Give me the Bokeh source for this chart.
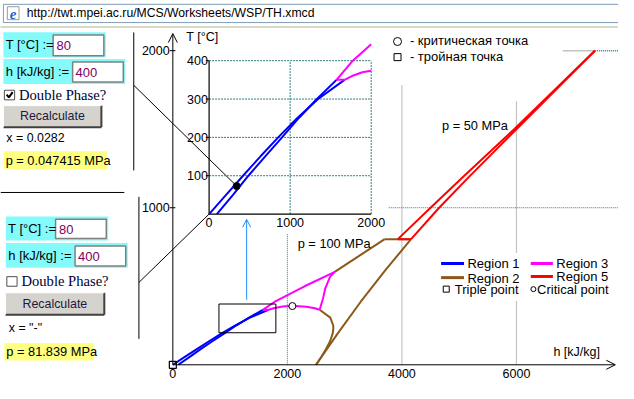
import numpy as np
from bokeh.plotting import figure
from bokeh.models import Range1d, Arrow, OpenHead
from bokeh.core.properties import value
from bokeh.embed import file_html
from bokeh.resources import INLINE

# ---------------- chart data: specific enthalpy h [kJ/kg], temperature T [°C] ----------------
sat_liq_T = [0, 50, 100, 150, 200, 250, 300, 350]
sat_liq_h = [0.0, 209.3, 419.1, 632.2, 852.3, 1085.8, 1344.8, 1670.9]
r1_p100_T = [0, 50, 100, 150, 200, 250, 300, 350]
r1_p100_h = [95.4, 295.0, 485.0, 690.0, 900.0, 1105.0, 1330.0, 1572.0]

r3_T350_T = [350, 350]
r3_T350_h = [1572.0, 1670.9]
r3_p100_T = [350, 400, 500, 590]
r3_p100_h = [1572.0, 1773.0, 2300.0, 2820.0]
sat_dome_T = [350, 360, 370, 372.5, 373.95, 372.8, 370, 360, 350]
sat_dome_h = [1670.9, 1761.7, 1890.7, 1960.0, 2087.5, 2200.0, 2332.7, 2481.5, 2563.6]
b23_T = [350, 425, 485, 560, 590]
b23_h = [2563.6, 2625.0, 2660.0, 2745.0, 2820.0]

sat_vap_T = [0, 50, 100, 150, 200, 234, 250, 300, 350]
sat_vap_h = [2500.9, 2591.3, 2675.6, 2745.9, 2792.0, 2803.0, 2800.9, 2749.6, 2563.6]
r2_p0_T = [0, 200, 400, 600, 800]
r2_p0_h = [2500.9, 2880.0, 3278.0, 3705.0, 4160.0]
r2_p100_T = [590, 700, 800]
r2_p100_h = [2820.0, 3280.0, 3700.0]
r2_T800_T = [800, 800]
r2_T800_h = [3700.0, 4160.0]

r5_p50_T = [800, 1000, 1200, 1500, 2000]
r5_p50_h = [3930.0, 4500.0, 5080.0, 5960.0, 7370.0]
r5_p0_T = [800, 1000, 1200, 1500, 2000]
r5_p0_h = [4160.0, 4650.0, 5180.0, 6000.0, 7370.0]
r5_T800_T = [800, 800]
r5_T800_h = [3930.0, 4160.0]

critical_h, critical_T = [2087.5], [373.95]
triple_h, triple_T = [0.0], [0.01]
state_h, state_T = [340.0], [73.0]

main_h_ticks = [0, 2000, 4000, 6000]
main_T_ticks = [1000, 2000]
inset_h_ticks = [0, 1000, 2000]
inset_T_ticks = [100, 200, 300, 400]
inset_h_max, inset_T_max = 2000, 400

zoom_box_h = [805, 1799]
zoom_box_T = [204, 387]
arrow_h, arrow_T = 1289, [414, 926]

legend_items = ["Region 1", "Region 2", "Region 3", "Region 5"]

BLUE, BROWN, MAG, RED = "#0000ff", "#8b5a1a", "#ff00ff", "#ff0000"
TEAL, GRAY = "#2f7f7f", "#c4c4c4"
SANS, SERIF = "Liberation Sans", "Liberation Serif"

# ---------------- figure: the frame covers the whole page ----------------
W, H = 634, 399   # reference layout in px
p = figure(width=618, height=383, x_range=Range1d(0, W), y_range=Range1d(H, 0),
           output_backend="svg", toolbar_location=None, min_border=0,
           x_axis_type=None, y_axis_type=None)
p.outline_line_color = None
p.background_fill_color = "white"
p.border_fill_color = "white"


def lin_range(v0, px0, v1, px1, lo_px, hi_px):
    k = (v1 - v0) / (px1 - px0)
    return Range1d(v0 + (lo_px - px0) * k, v0 + (hi_px - px0) * k)


p.extra_x_ranges = {"mh": lin_range(0, 176.8, 6000, 529.3, 0, W),
                    "ih": lin_range(0, 214.0, 2000, 380.3, 0, W)}
p.extra_y_ranges = {"mT": lin_range(0, 379.5, 2000, 52.3, H, 0),
                    "iT": lin_range(0, 222.5, 400, 62.7, H, 0)}
M = dict(x_range_name="mh", y_range_name="mT")
I = dict(x_range_name="ih", y_range_name="iT")


def label(x, y, s, size, color="black", align="left", font=SANS, rng=None, style="normal"):
    kw = rng if rng else {}
    p.text(x=[x], y=[y], text=[s], text_font=value(font), text_font_size=f"{size}px",
           text_color=color, text_align=align, text_baseline="middle",
           text_font_style=style, **kw)


def box(l, r, t, b, fill, line=None, lw=1):
    p.quad(left=[l], right=[r], top=[t], bottom=[b], fill_color=fill,
           line_color=line, line_width=lw)


def seg(x0, y0, x1, y1, color="black", lw=1, dash="solid", rng=None):
    kw = rng if rng else {}
    p.segment(x0=[x0], y0=[y0], x1=[x1], y1=[y1], line_color=color, line_width=lw,
              line_dash=dash, **kw)


def clip(hs, Ts, hmax, Tmax):
    oh, oT = [], []
    ins = lambda h, T: h <= hmax + 1e-9 and T <= Tmax + 1e-9
    for i, (h, T) in enumerate(zip(hs, Ts)):
        if i > 0:
            h0, T0 = hs[i - 1], Ts[i - 1]
            a, b = ins(h0, T0), ins(h, T)
            if a != b:
                ts = []
                if (h0 - hmax) * (h - hmax) < 0:
                    ts.append((hmax - h0) / (h - h0))
                if (T0 - Tmax) * (T - Tmax) < 0:
                    ts.append((Tmax - T0) / (T - T0))
                t = min(ts) if a else max(ts)
                oh.append(h0 + t * (h - h0)); oT.append(T0 + t * (T - T0))
                if a:
                    oh.append(np.nan); oT.append(np.nan)
        if ins(h, T):
            oh.append(h); oT.append(T)
    return oh, oT


# ---------------- browser address bar ----------------
box(3, 640, 4, 23, "white", "#7f9db9")
box(7, 19, 6.5, 20, "white", "#9a9a9a")
label(13, 14, "e", 15, color="#1c5fd0", align="center", font=SERIF, style="bold italic")
label(27, 13.5, "http://twt.mpei.ac.ru/MCS/Worksheets/WSP/TH.xmcd", 12.2)
seg(0, 27.5, 640, 27.5, color="#b0b088", lw=2, dash="1 1")

# ---------------- left panels (worksheet controls) ----------------
CYAN, YEL, BTN = "#84fbfb", "#ffff80", "#d6d3ce"


def panel(top_T, top_h, chk_y, btn, x_y, dx, checked, xtxt, ptxt, pbox):
    # T input
    box(dx, dx + 105, top_T[0], top_T[1], CYAN)
    box(dx + 51, dx + 103, top_T[0] + 3, top_T[1] - 2, "white", "#808080", 1.5)
    label(dx + 2.3, (top_T[0] + top_T[1]) / 2, "T [°C] :=", 13)
    label(dx + 54.5, (top_T[0] + top_T[1]) / 2 + 1, "80", 13, color="#800060")
    # h input
    box(dx, dx + 125, top_h[0], top_h[1], CYAN)
    box(dx + 71, dx + 123, top_h[0] + 3, top_h[1] - 2, "white", "#808080", 1.5)
    label(dx + 2.5, (top_h[0] + top_h[1]) / 2, "h [kJ/kg] :=", 13)
    label(dx + 74, (top_h[0] + top_h[1]) / 2 + 1, "400", 13, color="#800060")
    # checkbox
    box(dx + 1, dx + 11.5, chk_y - 5, chk_y + 5, "white", "#505050", 1)
    if checked:
        p.line([dx + 3.3, dx + 5.6, dx + 9.5], [chk_y - 0.5, chk_y + 2.5, chk_y - 3],
               line_color="black", line_width=2)
    label(dx + 16, chk_y, "Double Phase?", 14.6, color="#000033", font=SERIF)
    # button
    box(btn[0], btn[1], btn[2], btn[3], BTN, None)
    seg(btn[0], btn[3], btn[1], btn[3], "#404040", 2)
    seg(btn[1], btn[2], btn[1], btn[3], "#404040", 2)
    seg(btn[0], btn[2], btn[1], btn[2], "white", 1)
    seg(btn[0], btn[2], btn[0], btn[3], "white", 1)
    label((btn[0] + btn[1]) / 2, (btn[2] + btn[3]) / 2, "Recalculate", 12.4,
          color="#1a1a40", align="center")
    # results
    label(dx + 3, x_y, xtxt, 12.4)
    box(pbox[0], pbox[1], pbox[2], pbox[3], YEL)
    label(pbox[0] + 2, (pbox[2] + pbox[3]) / 2, ptxt, 12.8)


panel((33, 59.5), (61, 87), 98.5, (3, 103.5, 109.5, 132), 143.5, 3, True,
      "x = 0.0282", "p = 0.047415 MPa", (3.3, 109.3, 157, 176))
panel((225, 250), (252.7, 278.5), 292.7, (5, 106.5, 304.5, 327.5), 341.7, 5.5, False,
      'x = "-"', "p = 81.839 MPa", (4, 96, 356.7, 375))

seg(136.7, 33.3, 136.7, 177)
seg(0, 200, 127, 200)
seg(142, 204.5, 142, 352.5)
seg(136.7, 88.3, 242.3, 193.3)
seg(142, 293.7, 214, 222.5)

# ---------------- main chart: grid fragments ----------------
seg(2000, 0, 2000, 833, TEAL, 1, "1 1", M)
seg(4000, 0, 4000, 1782, GRAY, 1.2, "solid", M)
seg(6000, 0, 6000, 1678, GRAY, 1.2, "solid", M)
seg(3771, 1000, 7800, 1000, TEAL, 1, "1 1", M)
seg(6808, 2000, 7375, 2000, GRAY, 1.5, "solid", M)
seg(7375, 2000, 7800, 2000, TEAL, 1.5, "1 1", M)

# legend background (interrupts the grid line)
box(447, 634, 263, 313, "white", None)

# ---------------- main chart: region boundaries ----------------
def curve(h, T, color, rng, lw=2):
    p.line(h, T, line_color=color, line_width=lw, **rng)


for hs, Ts, c in [(sat_liq_h, sat_liq_T, BLUE), (r1_p100_h, r1_p100_T, BLUE),
                  (r2_p0_h, r2_p0_T, BROWN), (sat_vap_h, sat_vap_T, BROWN),
                  (r2_p100_h, r2_p100_T, BROWN), (r2_T800_h, r2_T800_T, BROWN),
                  (r3_T350_h, r3_T350_T, MAG), (r3_p100_h, r3_p100_T, MAG),
                  (sat_dome_h, sat_dome_T, MAG), (b23_h, b23_T, MAG),
                  (r5_p50_h, r5_p50_T, RED), (r5_p0_h, r5_p0_T, RED),
                  (r5_T800_h, r5_T800_T, RED)]:
    curve(hs, Ts, c, M)

# zoom frame and arrow to the inset
p.quad(left=[zoom_box_h[0]], right=[zoom_box_h[1]], bottom=[zoom_box_T[0]], top=[zoom_box_T[1]],
       fill_color=None, line_color="black", line_width=1, **M)
p.add_layout(Arrow(end=OpenHead(size=8, line_color="#1e90ff", line_width=1),
                   x_start=arrow_h, y_start=arrow_T[0], x_end=arrow_h, y_end=arrow_T[1],
                   line_color="#1e90ff", line_width=1, **M))

# axes with arrows
p.add_layout(Arrow(end=OpenHead(size=9, line_width=1), x_start=0, y_start=0,
                   x_end=0, y_end=2109, line_width=1, **M))
p.add_layout(Arrow(end=OpenHead(size=9, line_width=1), x_start=0, y_start=0,
                   x_end=7727, y_end=0, line_width=1, **M))
for t in main_T_ticks:
    seg(-55, t, 45, t, rng=M)
    label(-55, t, str(t), 12.5, align="right", rng=M)
for t in main_h_ticks:
    p.text(x=[t], y=[0], text=[str(t)], text_font=value(SANS), text_font_size="12.5px",
           text_align="center", text_baseline="top", y_offset=4, **M)
label(235, 2090, "T [°C]", 12.5, rng=M)
label(6645, 83, "h  [kJ/kg]", 12.5, rng=M)
label(2180, 770, "p = 100 MPa", 12.8, rng=M)
label(4700, 1525, "p = 50 MPa", 12.8, rng=M)

p.scatter(critical_h, critical_T, marker="circle", size=7, fill_color="white",
          line_color="black", line_width=1, **M)
p.scatter(triple_h, triple_T, marker="square", size=7, fill_color=None,
          line_color="black", line_width=1.2, **M)

# ---------------- legends ----------------
p.scatter([407.3], [42.7], marker="circle", size=8, fill_color=None, line_color="black")
label(420, 42, "- критическая точка", 13)
p.scatter([407.3], [59], marker="square", size=7, fill_color=None, line_color="black")
label(420, 58.5, "- тройная точка", 13)

for (x0, x1, y, c, txt) in [(452, 475.5, 274, BLUE, legend_items[0]),
                            (452, 475.5, 288.7, BROWN, legend_items[1]),
                            (544, 566.7, 274, MAG, legend_items[2]),
                            (544, 566.7, 287.5, RED, legend_items[3])]:
    seg(x0, y, x1, y, c, 3)
    label(x1 + 3.5, y + (1 if c == BROWN else 0), txt, 13)
p.scatter([457.3], [300.7], marker="square", size=6, fill_color=None, line_color="black")
label(466, 301, "Triple point", 13)
p.scatter([546.7], [300.7], marker="circle", size=5, fill_color=None, line_color="black")
label(550.5, 301, "Critical point", 13)

# ---------------- inset chart ----------------
for t in inset_T_ticks:
    seg(0, t, inset_h_max, t, TEAL, 1, "2 1", I)
for t in inset_h_ticks[1:]:
    seg(t, 0, t, inset_T_max, TEAL, 1, "2 1", I)
seg(0, 0, 0, inset_T_max, "black", 1.2, "solid", I)
seg(0, 0, inset_h_max, 0, "black", 1.2, "solid", I)
for t in inset_T_ticks:
    seg(-40, t, 0, t, rng=I)
    label(-15, t, str(t), 12.5, align="right", rng=I)
for t in inset_h_ticks:
    p.text(x=[t], y=[0], text=[str(t)], text_font=value(SANS), text_font_size="12.5px",
           text_align="center", text_baseline="top", y_offset=4, **I)

for hs, Ts, c in [(sat_liq_h, sat_liq_T, BLUE), (r1_p100_h, r1_p100_T, BLUE),
                  (r3_T350_h, r3_T350_T, MAG), (r3_p100_h, r3_p100_T, MAG),
                  (sat_dome_h, sat_dome_T, MAG)]:
    ch, cT = clip(hs, Ts, inset_h_max, inset_T_max)
    if ch:
        curve(ch, cT, c, I)
p.scatter(state_h, state_T, marker="circle", size=7, fill_color="black",
          line_color="black", **I)

open("out.html", "w").write(file_html(p, INLINE))
